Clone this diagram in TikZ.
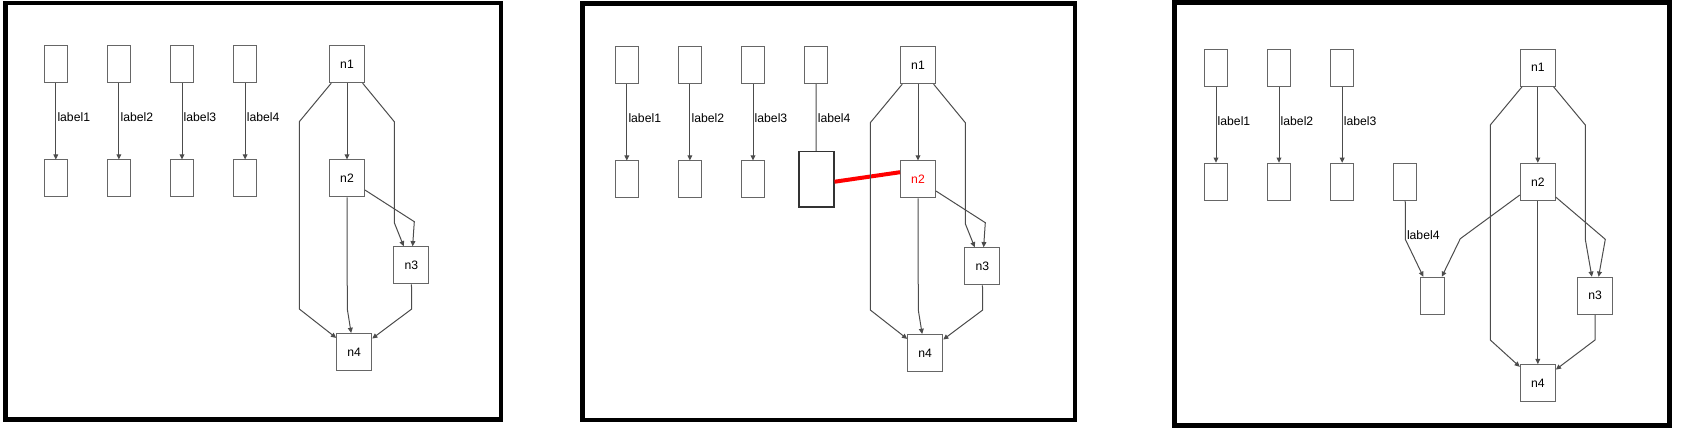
\documentclass[tikz,border=0pt]{standalone}
\usepackage{fontspec}
\setmainfont{Liberation Sans}
\usetikzlibrary{arrows.meta}

\tikzset{
  slot/.style={draw=black!60, line width=0.5pt, minimum width=11.75pt,
    minimum height=18.5pt, inner sep=0pt},
  vert/.style={draw=black!60, line width=0.5pt, minimum width=17.5pt,
    minimum height=18.5pt, inner sep=0pt, font=\fontsize{6.1pt}{7pt}\selectfont},
  link/.style={draw=black!70, line width=0.5pt},
  edge/.style={link, -{Triangle[length=2.6pt,width=2.4pt]}},
  lbl/.style={anchor=west, inner sep=0.6pt, font=\fontsize{6.1pt}{7pt}\selectfont},
  frame/.style={draw=black, line width=2.25pt}
}

\begin{document}
\begin{tikzpicture}[x=0.5pt, y=-0.5pt]
\useasboundingbox (0,0) rectangle (1682,432);

% First layout
\draw[frame] (5.3,3) rectangle (501,419.5);
\node[slot] (a-s1) at (55.8,64.2) {};
\node[slot] (a-s2) at (118.9,64.2) {};
\node[slot] (a-s3) at (182,64.2) {};
\node[slot] (a-s4) at (245.1,64.2) {};
\node[slot] (a-t1) at (55.8,178.5) {};
\node[slot] (a-t2) at (118.9,178.5) {};
\node[slot] (a-t3) at (182,178.5) {};
\node[slot] (a-t4) at (245.1,178.5) {};
\node[vert] (a-n1) at (347,64.2) {n1};
\node[vert] (a-n2) at (347,178.5) {n2};
\node[vert] (a-n3) at (411.3,265.3) {n3};
\node[vert] (a-n4) at (354.2,352) {n4};

\draw[edge] (a-s1) -- node[lbl, pos=0.45] {label1} (a-t1);
\draw[edge] (a-s2) -- node[lbl, pos=0.45] {label2} (a-t2);
\draw[edge] (a-s3) -- node[lbl, pos=0.45] {label3} (a-t3);
\draw[edge] (a-s4) -- node[lbl, pos=0.45] {label4} (a-t4);

\draw[edge] (a-n1) -- (a-n2);
\draw[edge] (a-n1) -- (299.3,121.7) -- (299.3,309) -- (a-n4);
\draw[edge] (a-n1) -- (394.3,121.7) -- (394.3,222.7) -- (a-n3);
\draw[edge] (a-n2) -- (414.3,221.7) -- (a-n3);
\draw[edge] (a-n2) -- (347.3,309) -- (a-n4);
\draw[edge] (a-n3) -- (411.7,309) -- (a-n4);

% Second layout, with n2 picked up
\draw[frame] (582.5,3.5) rectangle (1075,420);
\begin{scope}[shift={(571,1)}]
\node[slot] (b-s1) at (55.8,64.2) {};
\node[slot] (b-s2) at (118.9,64.2) {};
\node[slot] (b-s3) at (182,64.2) {};
\node[slot] (b-s4) at (245.1,64.2) {};
\node[slot] (b-t1) at (55.8,178.5) {};
\node[slot] (b-t2) at (118.9,178.5) {};
\node[slot] (b-t3) at (182,178.5) {};
\node[slot, draw=black!80, line width=0.8pt, minimum width=17.5pt,
  minimum height=27.8pt] (b-t4) at (245.2,178.5) {};
\node[vert] (b-n1) at (347,64.2) {n1};
\node[vert, text=red] (b-n2) at (347,178.5) {n2};
\node[vert] (b-n3) at (411.3,265.3) {n3};
\node[vert] (b-n4) at (354.2,352) {n4};

\draw[red, line width=2pt] (b-t4.-7) -- (b-n2.158);

\draw[edge] (b-s1) -- node[lbl, pos=0.45] {label1} (b-t1);
\draw[edge] (b-s2) -- node[lbl, pos=0.45] {label2} (b-t2);
\draw[edge] (b-s3) -- node[lbl, pos=0.45] {label3} (b-t3);
\draw[link] (b-s4) -- node[lbl, pos=0.51] {label4} (b-t4);

\draw[edge] (b-n1) -- (b-n2);
\draw[edge] (b-n1) -- (299.3,121.7) -- (299.3,309) -- (b-n4);
\draw[edge] (b-n1) -- (394.3,121.7) -- (394.3,222.7) -- (b-n3);
\draw[edge] (b-n2) -- (414.3,221.7) -- (b-n3);
\draw[edge] (b-n2) -- (347.3,309) -- (b-n4);
\draw[edge] (b-n3) -- (411.7,309) -- (b-n4);
\end{scope}

% Third layout, label4 moved under n2
\draw[frame] (1174.5,2.3) rectangle (1669.3,425.5);
\node[slot] (c-s1) at (1216,67.8) {};
\node[slot] (c-s2) at (1279,67.8) {};
\node[slot] (c-s3) at (1342.2,67.8) {};
\node[slot] (c-t1) at (1216,181.8) {};
\node[slot] (c-t2) at (1279,181.8) {};
\node[slot] (c-t3) at (1342.2,181.8) {};
\node[slot] (c-s4) at (1405.2,181.8) {};
\node[slot] (c-t4) at (1432.5,295.8) {};
\node[vert] (c-n1) at (1537.8,67.8) {n1};
\node[vert] (c-n2) at (1537.8,181.8) {n2};
\node[vert] (c-n3) at (1595.2,295.8) {n3};
\node[vert] (c-n4) at (1537.8,383.2) {n4};

\draw[edge] (c-s1) -- node[lbl, pos=0.45] {label1} (c-t1);
\draw[edge] (c-s2) -- node[lbl, pos=0.45] {label2} (c-t2);
\draw[edge] (c-s3) -- node[lbl, pos=0.45] {label3} (c-t3);
\draw[edge] (c-s4) -- node[lbl, pos=0.89] {label4} (1405.3,239.3) -- (c-t4);

\draw[edge] (c-n1) -- (c-n2);
\draw[edge] (c-n1) -- (1490.3,125) -- (1490.3,340) -- (c-n4);
\draw[edge] (c-n1) -- (1585.3,125) -- (1585.3,239.3) -- (c-n3);
\draw[edge] (c-n2) -- (1605.3,239.3) -- (c-n3);
\draw[edge] (c-n2) -- (1460.3,238.7) -- (c-t4);
\draw[edge] (c-n2) -- (c-n4);
\draw[edge] (c-n3) -- (1595,340) -- (c-n4);
\end{tikzpicture}
\end{document}
